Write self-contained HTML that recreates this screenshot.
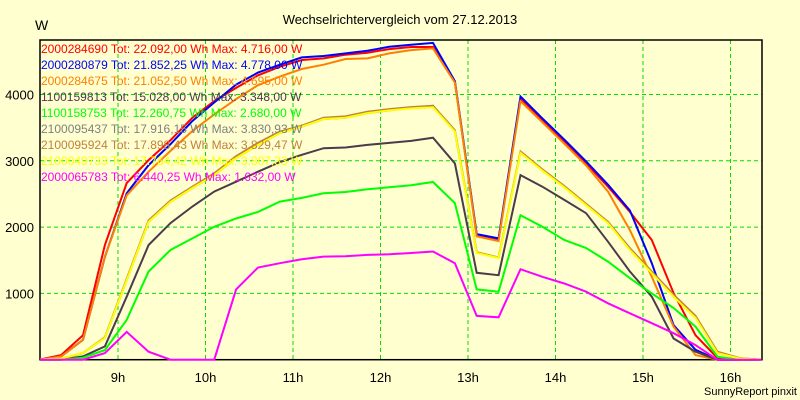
<!DOCTYPE html>
<html><head><meta charset="utf-8"><style>
html,body{margin:0;padding:0;background:#ffffd0;}
svg{display:block;font-family:"Liberation Sans",sans-serif;}
</style></head><body>
<svg id="chart" width="800" height="400" viewBox="0 0 800 400">
<rect x="0" y="0" width="800" height="400" fill="#ffffd0"/>
<text x="400" y="24" text-anchor="middle" font-size="13" fill="#000">Wechselrichtervergleich vom 27.12.2013</text>
<text x="35" y="30" font-size="14" fill="#000">W</text>
<text x="797" y="395" text-anchor="end" font-size="11" fill="#000">SunnyReport pinxit</text>
<g id="grid"></g>
<g id="axes"></g>
<defs><clipPath id="plotclip"><rect x="40" y="40" width="722" height="322"/></clipPath></defs>
<g id="series" clip-path="url(#plotclip)"></g>
<g id="legend"></g>
</svg>
<script>
const times = [8.1,8.35,8.6,8.85,9.1,9.35,9.6,9.85,10.1,10.35,10.6,10.85,11.1,11.35,11.6,11.85,12.1,12.35,12.6,12.85,13.1,13.35,13.6,13.85,14.1,14.35,14.6,14.85,15.1,15.35,15.6,15.85,16.1,16.35];
const yTicks = [1000,2000,3000,4000];
const xTicks = [9,10,11,12,13,14,15,16];
const seriesNames = ["2000284690","2000280879","2000284675","1100159813","1100158753","2100095437","2100095924","2100049733","2000065783"];
const seriesLabels = [
"2000284690 Tot: 22.092,00 Wh Max: 4.716,00 W",
"2000280879 Tot: 21.852,25 Wh Max: 4.778,00 W",
"2000284675 Tot: 21.052,50 Wh Max: 4.695,00 W",
"1100159813 Tot: 15.028,00 Wh Max: 3.348,00 W",
"1100158753 Tot: 12.260,75 Wh Max: 2.680,00 W",
"2100095437 Tot: 17.916,15 Wh Max: 3.830,93 W",
"2100095924 Tot: 17.898,43 Wh Max: 3.829,47 W",
"2100049733 Tot: 17.764,42 Wh Max: 3.807,33 W",
"2000065783 Tot: 6.440,25 Wh Max: 1.632,00 W"];
const seriesColors = ["#ff0000","#0000ff","#ff8000","#4b3b4b","#00ff00","#808080","#c08040","#ffff00","#ff00ff"];
const sRed    = [0,70,370,1730,2665,3010,3310,3650,3900,4100,4290,4420,4520,4545,4600,4630,4685,4716,4716,4190,1880,1815,3940,3615,3290,2960,2610,2230,1805,1005,370,25,0,0];
const sBlue   = [0,50,300,1550,2510,2935,3250,3600,3880,4150,4330,4450,4560,4580,4620,4660,4720,4750,4778,4200,1895,1830,3970,3640,3320,2990,2640,2250,1455,520,150,0,0,0];
const sOrange = [0,50,300,1550,2480,2835,3150,3450,3700,3930,4140,4270,4385,4450,4535,4545,4620,4670,4695,4180,1860,1790,3900,3580,3260,2930,2535,1955,1250,500,70,0,0,0];
const sDark   = [0,0,50,200,950,1730,2060,2310,2535,2685,2835,2980,3090,3190,3200,3240,3270,3300,3348,2960,1310,1275,2785,2610,2410,2210,1780,1330,950,320,120,0,0,0];
const sGreen  = [0,0,30,145,600,1330,1655,1830,2005,2130,2230,2385,2440,2510,2530,2570,2600,2630,2680,2360,1060,1025,2180,2005,1805,1685,1480,1230,1000,780,500,45,0,0];
const sGray   = [0,10,100,330,1200,2080,2380,2590,2785,3040,3240,3420,3515,3630,3650,3720,3760,3800,3830,3440,1620,1540,3130,2860,2610,2340,2070,1665,1315,960,640,110,20,0];
const sBrown  = [0,10,100,340,1220,2100,2400,2610,2810,3070,3270,3440,3530,3650,3670,3740,3780,3810,3829,3460,1620,1540,3140,2870,2620,2350,2080,1680,1330,980,660,120,25,0];
const sYellow = [0,20,100,330,1200,2080,2380,2590,2785,3040,3240,3420,3515,3630,3650,3720,3760,3790,3807,3440,1610,1535,3120,2850,2600,2330,2060,1655,1305,950,630,100,20,0];
const sMagenta= [0,0,0,100,420,120,0,0,0,1060,1390,1455,1515,1555,1560,1580,1590,1610,1632,1455,660,640,1365,1250,1150,1025,850,700,550,400,220,0,0,0];
const seriesValues = [sRed,sBlue,sOrange,sDark,sGreen,sGray,sBrown,sYellow,sMagenta];

const NS="http://www.w3.org/2000/svg";
const X0=40,X1=762,Y0=40,Y1=359.7;
function xs(t){return 118+(t-9)*87.5;}
function ys(v){return Y1-v*0.0663;}
function mk(tag,attrs,parent){const e=document.createElementNS(NS,tag);for(const k in attrs)e.setAttribute(k,attrs[k]);parent.appendChild(e);return e;}

const grid=document.getElementById('grid');
const axes=document.getElementById('axes');
yTicks.forEach(v=>{
  const l=mk('line',{x1:X0,x2:X1,y1:ys(v),y2:ys(v),stroke:'#00e000','stroke-dasharray':'4,3','stroke-width':1},grid);
  
  
  const t=mk('text',{x:34,y:ys(v)+5,'text-anchor':'end','font-size':13,fill:'#000'},axes);
  t.textContent=v;
  
  
});
xTicks.forEach(h=>{
  const l=mk('line',{x1:xs(h),x2:xs(h),y1:Y0,y2:Y1,stroke:'#00e000','stroke-dasharray':'4,3','stroke-width':1},grid);
  
  
  const t=mk('text',{x:xs(h),y:382,'text-anchor':'middle','font-size':13,fill:'#000'},axes);
  t.textContent=h+'h';
  
  
});
const frame=mk('rect',{x:X0,y:Y0,width:X1-X0,height:Y1-Y0,fill:'none',stroke:'#000','stroke-width':1.5},axes);



const sg=document.getElementById('series');
seriesValues.forEach((vals,i)=>{
  const pts=vals.map((v,j)=>xs(times[j]).toFixed(1)+','+ys(v).toFixed(1)).join(' ');
  const p=mk('polyline',{points:pts,fill:'none',stroke:seriesColors[i],'stroke-width':2,'stroke-linejoin':'miter'},sg);
  
  
});
const lg=document.getElementById('legend');
seriesLabels.forEach((s,i)=>{
  const t=mk('text',{x:41,y:53+i*16,'font-size':12,fill:seriesColors[i]},lg);
  t.textContent=s;
  
  
});
</script>
</body></html>
